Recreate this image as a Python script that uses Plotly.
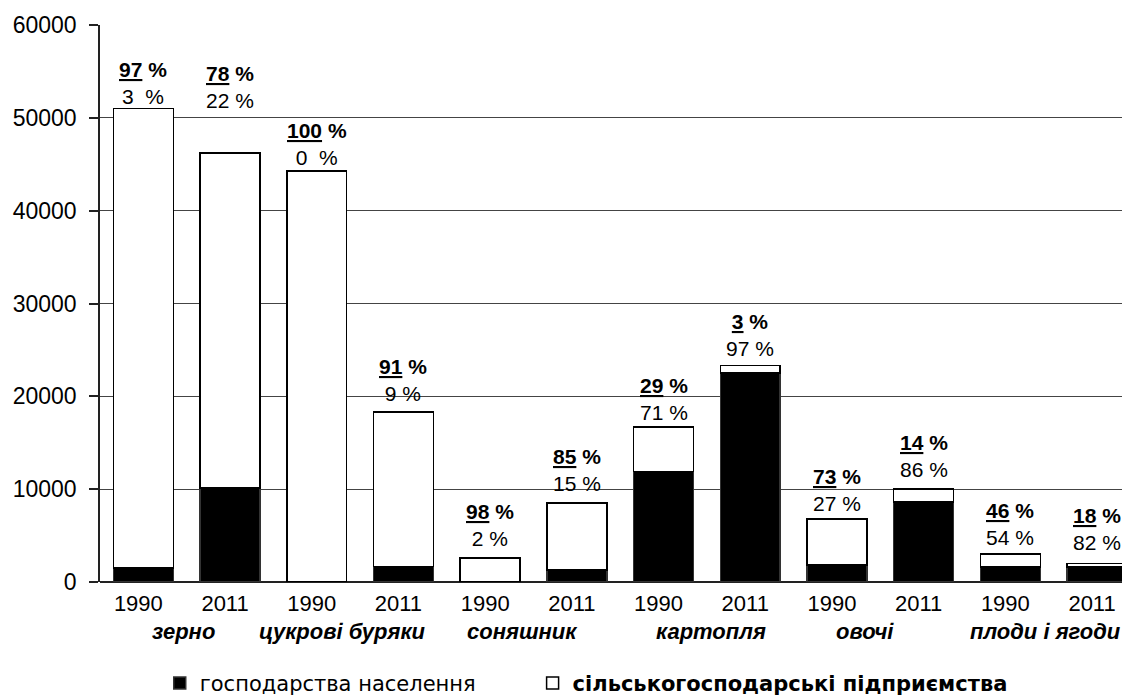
import plotly.graph_objects as go

# ---- data ----
years = ["1990", "2011"] * 6
crops = ["зерно", "цукрові буряки", "соняшник", "картопля", "овочі", "плоди і ягоди"]
households = [1500, 10100, 0, 1650, 50, 1270, 11900, 22500, 1850, 8600, 1620, 1640]
enterprises = [49500, 36100, 44300, 16650, 2550, 7230, 4800, 800, 4950, 1400, 1380, 360]
enterprise_pct = [97, 78, 100, 91, 98, 85, 29, 3, 73, 14, 46, 18]
household_pct = [3, 22, 0, 9, 2, 15, 71, 97, 27, 86, 54, 82]
y_ticks = [0, 10000, 20000, 30000, 40000, 50000, 60000]

# ---- layout helpers (pixels, styling only) ----
label_gap_px = [2, 42, 3, 8, 9, 9, 4, 7, 5, 9, 6, 10]
crop_shift_px = [-3, -18, -11, 4, -15, -8]
FONT = "Liberation Sans, Arial, sans-serif"
LEGEND_FONT = "DejaVu Sans, Liberation Sans, sans-serif"

xs = list(range(len(years)))
totals = [h + e for h, e in zip(households, enterprises)]

fig = go.Figure()
fig.add_trace(go.Bar(
    x=xs, y=households, name="господарства населення", legend="legend",
    marker=dict(color="black", line=dict(color="#333333", width=1.5)),
))
fig.add_trace(go.Bar(
    x=xs, y=enterprises, name="<b>сільськогосподарські підприємства</b>",
    legend="legend2",
    marker=dict(color="white", line=dict(color="black", width=1.5)),
))

annotations = []
for i, x in enumerate(xs):
    sec = str(household_pct[i])
    pad = "\u00a0\u00a0" if household_pct[i] in (0, 3) and enterprise_pct[i] > 90 else "\u00a0"
    txt = ("<b><span style='text-decoration:underline'>%d</span>\u00a0%%</b><br>%s%s%%"
           % (enterprise_pct[i], sec, pad))
    annotations.append(dict(
        x=x, y=totals[i], xref="x", yref="y", text=txt, showarrow=False,
        yanchor="bottom", xanchor="center", yshift=label_gap_px[i] - 3,
        font=dict(family=FONT, size=21, color="black"), align="center",
    ))
for j, c in enumerate(crops):
    annotations.append(dict(
        x=2 * j + 0.5, y=0, xref="x", yref="paper", text="<b><i>%s</i></b>" % c,
        showarrow=False, yanchor="middle", xanchor="center",
        yshift=-49, xshift=crop_shift_px[j],
        font=dict(family=FONT, size=22, color="black"),
    ))

legend_common = dict(
    orientation="h", xanchor="left", y=-0.182, yanchor="middle",
    font=dict(family=LEGEND_FONT, size=21, color="black"),
    itemclick=False, bgcolor="rgba(0,0,0,0)",
)

fig.update_layout(
    barmode="stack",
    bargap=0.31,
    width=1122, height=690,
    margin=dict(l=92, r=0, t=17, b=116, autoexpand=False),
    plot_bgcolor="white", paper_bgcolor="white",
    font=dict(family=FONT, size=21, color="black"),
    annotations=annotations,
    showlegend=True,
    legend=dict(x=0.058, **legend_common),
    legend2=dict(x=0.42, **legend_common),
    xaxis=dict(
        range=[-0.5, 11.38], tickmode="array", tickvals=xs, ticktext=years,
        showgrid=False, zeroline=False, showline=False, ticks="",
        ticklabelshift=-5, ticklabelstandoff=6,
        tickfont=dict(family=FONT, size=22, color="black"),
    ),
    yaxis=dict(
        range=[0, 60000], tickmode="array", tickvals=y_ticks,
        ticktext=[str(v) for v in y_ticks],
        showgrid=True, gridcolor="#444444", gridwidth=1.2,
        zeroline=True, zerolinecolor="#222222", zerolinewidth=1.5,
        showline=True, linecolor="#222222", linewidth=1.5,
        ticks="outside", ticklen=9, tickcolor="#222222", tickwidth=1.5,
        ticklabelstandoff=8,
        tickfont=dict(family=FONT, size=23, color="black"),
    ),
)

fig.write_html("out.html")
